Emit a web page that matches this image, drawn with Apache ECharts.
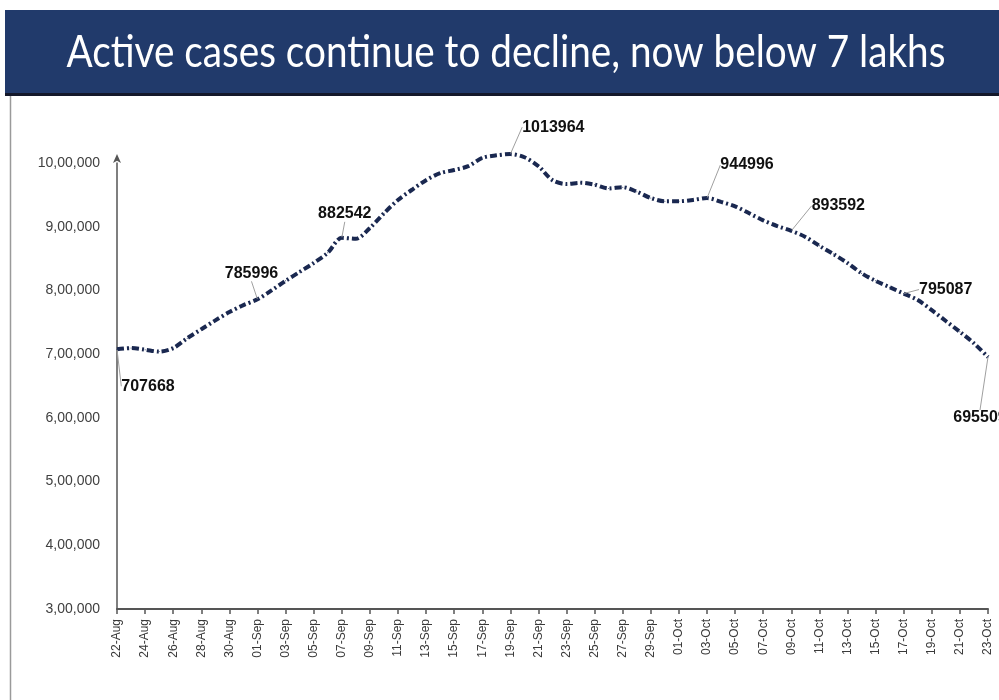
<!DOCTYPE html>
<html>
<head>
<meta charset="utf-8">
<script src="https://cdn.jsdelivr.net/npm/echarts@6/dist/echarts.min.js"></script>
<style>
  html, body { margin: 0; padding: 0; background: #fff; }
  #chart { width: 999px; height: 700px; }
</style>
</head>
<body>
<div id="chart"></div>
<script>
var dates = [
    '22-Aug', '23-Aug', '24-Aug', '25-Aug', '26-Aug', '27-Aug', '28-Aug', '29-Aug', '30-Aug', '31-Aug',
    '01-Sep', '02-Sep', '03-Sep', '04-Sep', '05-Sep', '06-Sep', '07-Sep', '08-Sep', '09-Sep', '10-Sep',
    '11-Sep', '12-Sep', '13-Sep', '14-Sep', '15-Sep', '16-Sep', '17-Sep', '18-Sep', '19-Sep', '20-Sep',
    '21-Sep', '22-Sep', '23-Sep', '24-Sep', '25-Sep', '26-Sep', '27-Sep', '28-Sep', '29-Sep', '30-Sep',
    '01-Oct', '02-Oct', '03-Oct', '04-Oct', '05-Oct', '06-Oct', '07-Oct', '08-Oct', '09-Oct', '10-Oct',
    '11-Oct', '12-Oct', '13-Oct', '14-Oct', '15-Oct', '16-Oct', '17-Oct', '18-Oct', '19-Oct', '20-Oct',
    '21-Oct', '22-Oct', '23-Oct'
];

var activeCases = [
    707668, 709500, 707000, 704000, 709500, 725000, 739000, 753000, 766000, 777000,
    785996, 800000, 815000, 829000, 843000, 859000, 882542, 881000, 898000, 921000,
    942000, 958000, 973000, 984000, 989000, 995000, 1008000, 1012000, 1013964, 1009000,
    995000, 973000, 967000, 969000, 966000, 960000, 962000, 955000, 945000, 940000,
    940000, 942000, 944996, 939000, 932000, 921000, 910000, 901000, 893592, 884000,
    870000, 857000, 843000, 827000, 815000, 805000, 795087, 785000, 769000, 752000,
    735000, 717000, 695509
];

// days whose value is written on the chart
var labelledDays = ['22-Aug', '01-Sep', '07-Sep', '19-Sep', '03-Oct', '09-Oct', '17-Oct', '23-Oct'];

// where each value label sits relative to its point (px)
var labelShift = {
    '22-Aug': [31, 37],
    '01-Sep': [-6, -26],
    '07-Sep': [3, -24],
    '19-Sep': [43, -27],
    '03-Oct': [40, -33],
    '09-Oct': [47, -25],
    '17-Oct': [42, -4],
    '23-Oct': [-8, 61]
};

function lakhFormat(v) {
    var s = String(v);
    var last3 = s.slice(-3);
    var rest = s.slice(0, -3);
    if (!rest) return last3;
    return rest.replace(/\B(?=(\d{2})+(?!\d))/g, ',') + ',' + last3;
}

var seriesData = activeCases.map(function (v, i) {
    if (labelledDays.indexOf(dates[i]) >= 0) {
        return { value: v, label: { show: true } };
    }
    return v;
});

var myChart = echarts.init(document.getElementById('chart'));

var option = {
    backgroundColor: '#ffffff',
    animation: false,
    graphic: [
        {
            type: 'rect',
            shape: { x: 5, y: 10, width: 994, height: 84 },
            style: { fill: '#213a6b' }
        },
        {
            type: 'rect',
            shape: { x: 5, y: 93, width: 994, height: 3 },
            style: { fill: '#14182a' }
        },
        {
            type: 'line',
            shape: { x1: 10.5, y1: 96, x2: 10.5, y2: 700 },
            style: { stroke: '#9a9a9a', lineWidth: 1.5 }
        },
        {
            type: 'text',
            x: 506,
            y: 52,
            scaleX: 0.86,
            style: {
                text: 'Active cases continue to decline, now below 7 lakhs',
                fill: '#ffffff',
                font: '45px Lato',
                textAlign: 'center',
                textVerticalAlign: 'middle'
            }
        }
    ],
    grid: {
        left: 117,
        right: 11,
        top: 163,
        bottom: 91
    },
    xAxis: {
        type: 'category',
        data: dates,
        boundaryGap: false,
        axisLine: { lineStyle: { color: '#555555', width: 2 } },
        axisTick: { show: true, interval: 1, length: 5, lineStyle: { color: '#555555', width: 1.5 } },
        axisLabel: {
            interval: 1,
            rotate: 90,
            margin: 10,
            color: '#3a3a3a',
            fontSize: 12,
            fontFamily: 'Liberation Sans'
        },
        splitLine: { show: false }
    },
    yAxis: {
        type: 'value',
        min: 300000,
        max: 1000000,
        interval: 100000,
        axisLine: {
            show: true,
            symbol: ['none', 'arrow'],
            symbolSize: [6, 9],
            symbolOffset: [0, 9],
            lineStyle: { color: '#555555', width: 1.5 }
        },
        axisTick: { show: false },
        axisLabel: {
            margin: 17,
            color: '#404040',
            fontSize: 14,
            fontFamily: 'Liberation Sans',
            formatter: lakhFormat
        },
        splitLine: { show: false }
    },
    series: [
        {
            type: 'line',
            data: seriesData,
            smooth: 0.3,
            clip: false,
            showSymbol: true,
            symbol: 'circle',
            symbolSize: 1,
            itemStyle: { color: '#1c2b57' },
            silent: true,
            lineStyle: {
                color: '#1a2850',
                width: 4,
                type: [7, 3, 2, 3]
            },
            label: {
                show: false,
                position: 'inside',
                color: '#111111',
                fontSize: 16,
                fontWeight: 'bold',
                fontFamily: 'Liberation Sans',
                formatter: function (p) { return String(p.value); }
            },
            labelLine: {
                show: true,
                lineStyle: { color: '#a0a0a0', width: 1 }
            },
            labelLayout: function (params) {
                var s = labelShift[dates[params.dataIndex]];
                if (!s) return {};
                return { dx: s[0], dy: s[1] };
            },
            emphasis: { disabled: true }
        }
    ]
};

if (option && typeof option === 'object') {
    myChart.setOption(option, true);
}
</script>
</body>
</html>
